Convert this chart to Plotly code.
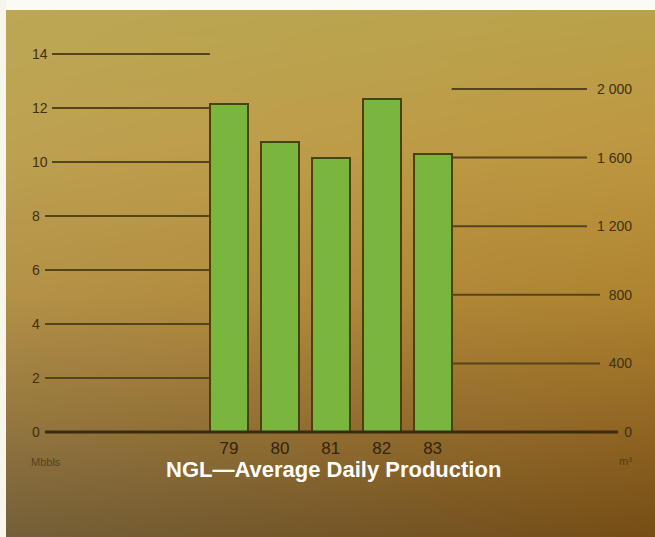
import base64
import struct
import zlib

import numpy as np
import plotly.graph_objects as go

# NGL average daily production, thousand barrels per day
years = ["79", "80", "81", "82", "83"]
mbbls = [12.15, 10.74, 10.15, 12.33, 10.30]

left_ticks = [0, 2, 4, 6, 8, 10, 12, 14]
left_text = ["0", "2", "4", "6", "8", "10", "12", "14"]
right_ticks = [0, 400, 800, 1200, 1600, 2000]
right_text = ["0", "400", "800", "1 200", "1 600", "2 000"]

M3_PER_MBBL = 159.0
m3 = [v * M3_PER_MBBL for v in mbbls]

# ---- page geometry (pixels) ----
W, H = 655, 537
LEFT_EDGE, TOP_EDGE = 6, 10          # white border of the page
ZERO_PX = 432                         # baseline
PX_PER_MBBL = 27.0
PX_PER_M3 = 343.0 / 2000.0
BAR0_PX, BAR_STEP_PX = 229.0, 50.9
BAR_W = 0.75


def px_to_x(px):
    return (px - BAR0_PX) / BAR_STEP_PX


x_range = [px_to_x(0), px_to_x(W)]
y_range = [-(H - ZERO_PX) / PX_PER_MBBL, ZERO_PX / PX_PER_MBBL]
y2_range = [-(H - ZERO_PX) / PX_PER_M3, ZERO_PX / PX_PER_M3]


# ---- background: warm olive-to-brown paper gradient as a PNG ----
def gradient_png(w, h):
    stops_y = np.array([0.0, 0.27, 0.55, 0.78, 1.0])
    left = np.array([[188, 168, 86], [190, 162, 82], [180, 146, 72],
                     [150, 120, 64], [116, 96, 58]], float)
    right = np.array([[186, 163, 74], [190, 152, 64], [176, 132, 48],
                      [148, 104, 36], [118, 78, 22]], float)
    ys = np.linspace(0, 1, h)
    xs = np.linspace(0, 1, w)
    lcol = np.stack([np.interp(ys, stops_y, left[:, c]) for c in range(3)], -1)
    rcol = np.stack([np.interp(ys, stops_y, right[:, c]) for c in range(3)], -1)
    img = lcol[:, None, :] * (1 - xs[None, :, None]) + rcol[:, None, :] * xs[None, :, None]
    img = np.clip(img, 0, 255).astype(np.uint8)
    raw = b"".join(b"\x00" + img[r].tobytes() for r in range(h))

    def chunk(tag, data):
        body = tag + data
        return struct.pack(">I", len(data)) + body + struct.pack(">I", zlib.crc32(body) & 0xFFFFFFFF)

    png = (b"\x89PNG\r\n\x1a\n"
           + chunk(b"IHDR", struct.pack(">IIBBBBB", w, h, 8, 2, 0, 0, 0))
           + chunk(b"IDAT", zlib.compress(raw, 9))
           + chunk(b"IEND", b""))
    return "data:image/png;base64," + base64.b64encode(png).decode()


bg_src = gradient_png(260, 210)

FONT = "Liberation Sans, Arial, sans-serif"
INK = "#3a2b10"
GRID = "#55441a"
TICK_FONT = dict(family=FONT, size=14, color="#3f3012")

fig = go.Figure()

fig.add_trace(go.Bar(
    x=list(range(len(years))), y=mbbls, width=BAR_W,
    marker=dict(color="#7ab63e", line=dict(color="#4a4012", width=2)),
    hoverinfo="skip", showlegend=False,
))
# companion series in cubic metres so the right-hand scale is drawn
fig.add_trace(go.Scatter(
    x=list(range(len(years))), y=m3, yaxis="y2", mode="markers",
    marker=dict(opacity=0), hoverinfo="skip", showlegend=False,
))

shapes = [
    # white page margin along the top and left edges
    dict(type="rect", xref="paper", yref="paper", x0=-0.01, x1=1.01,
         y0=1 - TOP_EDGE / H, y1=1.01, fillcolor="#fbfaf4", line=dict(width=0),
         layer="below"),
    dict(type="rect", xref="paper", yref="paper", x0=-0.01, x1=LEFT_EDGE / W,
         y0=-0.01, y1=1.01, fillcolor="#f8f6ea", line=dict(width=0), layer="below"),
]
# left rules (Mbbls), stopping at the first bar
for v in left_ticks[1:]:
    start = 52 if v >= 10 else 45
    shapes.append(dict(type="line", xref="x", yref="y",
                       x0=px_to_x(start), x1=-BAR_W / 2, y0=v, y1=v,
                       line=dict(color=GRID, width=2)))
# right rules (m3), starting at the last bar
for v in right_ticks[1:]:
    end = 600 if v < 1000 else 587
    shapes.append(dict(type="line", xref="x", yref="y2",
                       x0=len(years) - 1 + BAR_W / 2, x1=px_to_x(end), y0=v, y1=v,
                       line=dict(color=GRID, width=2)))
# baseline
shapes.append(dict(type="line", xref="x", yref="y",
                   x0=px_to_x(45), x1=px_to_x(618), y0=0, y1=0,
                   line=dict(color=INK, width=3)))

annotations = [
    dict(text="<b>NGL\u2014Average Daily Production</b>", xref="paper", yref="paper",
         x=333 / W, y=1 - 469 / H, xanchor="center", yanchor="middle", showarrow=False,
         font=dict(family=FONT, size=22, color="#ffffff")),
    dict(text="Mbbls", xref="paper", yref="paper", x=29 / W, y=1 - 462 / H,
         xanchor="left", yanchor="middle", showarrow=False,
         font=dict(family=FONT, size=11, color="#55431e")),
    dict(text="m\u00b3", xref="paper", yref="paper", x=634 / W, y=1 - 461 / H,
         xanchor="right", yanchor="middle", showarrow=False,
         font=dict(family=FONT, size=11, color="#553a14")),
]

fig.update_layout(
    width=W, height=H,
    margin=dict(l=0, r=0, t=0, b=0),
    paper_bgcolor="#8c6a30",
    plot_bgcolor="rgba(0,0,0,0)",
    images=[dict(source=bg_src, xref="paper", yref="paper",
                 x=0, y=1, sizex=1, sizey=1,
                 xanchor="left", yanchor="top", sizing="stretch", layer="below")],
    xaxis=dict(domain=[0, 1], range=x_range, anchor="free", position=1 - 436 / H,
               tickvals=list(range(len(years))), ticktext=years,
               showgrid=False, zeroline=False, showline=False, ticks="",
               tickfont=dict(family=FONT, size=17, color="#33250c"),
               fixedrange=True),
    yaxis=dict(domain=[0, 1], range=y_range, anchor="free", position=28 / W,
               tickvals=left_ticks, ticktext=left_text, ticklabelposition="inside",
               showgrid=False, zeroline=False, showline=False, ticks="",
               tickfont=TICK_FONT, fixedrange=True),
    yaxis2=dict(overlaying="y", side="right", range=y2_range, anchor="free",
                position=635 / W, tickvals=right_ticks, ticktext=right_text,
                ticklabelposition="inside", showgrid=False, zeroline=False,
                showline=False, ticks="", tickfont=TICK_FONT, fixedrange=True),
    shapes=shapes,
    annotations=annotations,
    bargap=0,
)

fig.write_html("out.html")
